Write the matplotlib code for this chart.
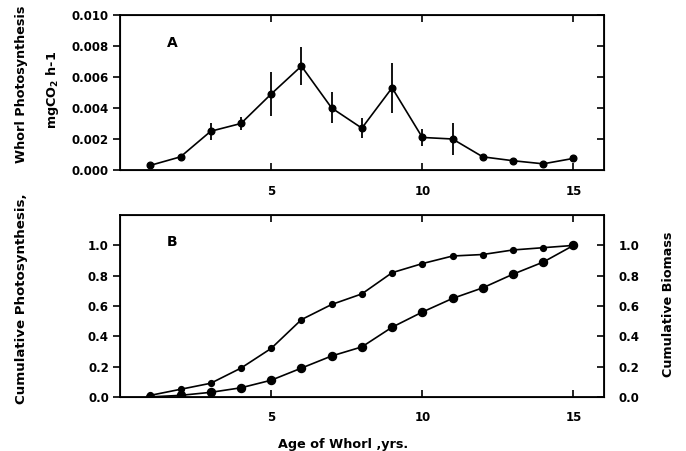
import numpy as np
import matplotlib.pyplot as plt

# whorl age, years
age = [1, 2, 3, 4, 5, 6, 7, 8, 9, 10, 11, 12, 13, 14, 15]

# panel A: whorl photosynthesis, mgCO2 h-1
photo = [0.0003, 0.00085, 0.0025, 0.0030, 0.0049, 0.0067, 0.0040, 0.0027,
         0.0053, 0.0021, 0.0020, 0.00085, 0.0006, 0.0004, 0.00075]
photo_err = [0, 0, 0.00055, 0.00043, 0.0014, 0.0012, 0.001, 0.00065,
             0.0016, 0.00055, 0.001, 0, 0, 0, 0]

# panel B: cumulative fractions
cum_photo = [0.01, 0.05, 0.09, 0.19, 0.32, 0.51, 0.61, 0.68, 0.82, 0.88,
             0.93, 0.94, 0.97, 0.985, 1.0]
cum_biomass = [0.0, 0.01, 0.03, 0.06, 0.11, 0.19, 0.27, 0.33, 0.46, 0.56,
               0.65, 0.72, 0.81, 0.89, 1.0]

plt.rcParams["font.family"] = "DejaVu Sans"
plt.rcParams["font.weight"] = "bold"
fs = 8.5
lfs = 9.2  # axis label size
lw = 1.2

fig = plt.figure(figsize=(6.86, 4.51), dpi=100)
axA = fig.add_axes([0.175, 0.623, 0.705, 0.344])
axB = fig.add_axes([0.175, 0.120, 0.705, 0.403])

for ax in (axA, axB):
    for s in ax.spines.values():
        s.set_linewidth(1.3)
    ax.set_xlim(0, 16)
    ax.set_xticks([5, 10, 15])
    ax.tick_params(axis="x", which="both", direction="in", top=True,
                   length=5, width=1.2, labelsize=fs)
    ax.tick_params(axis="y", direction="out", length=5, width=1.2,
                   labelsize=fs, pad=3)

# Panel A
axA.errorbar(age, photo, yerr=photo_err, color="black", lw=lw, elinewidth=1.3,
             capsize=0, marker="o", ms=4.8)
axA.set_ylim(0, 0.010)
axA.set_yticks(np.arange(0, 0.0101, 0.002))
axA.set_yticklabels(["%.3f" % v for v in np.arange(0, 0.0101, 0.002)])
axA.tick_params(axis="x", pad=11)
axA_r = axA.twinx()
axA_r.set_ylim(0, 0.010)
axA_r.set_yticks(np.arange(0.002, 0.0101, 0.002))
axA_r.tick_params(axis="y", direction="in", length=5, width=1.2,
                  labelright=False)
axA.text(1.72, 0.0082, "A", fontsize=10, fontweight="bold",
         ha="center", va="center")

# Panel B
axB.plot(age, cum_photo, color="black", lw=lw, marker="o", ms=4.2)
axB.set_ylim(0, 1.2)
axB.set_yticks(np.arange(0, 1.01, 0.2))
axB.set_yticklabels(["%.1f" % v for v in np.arange(0, 1.01, 0.2)])
axB.tick_params(axis="x", pad=10)
axB_r = axB.twinx()
axB_r.plot(age, cum_biomass, color="black", lw=lw, marker="o", ms=5.8)
axB_r.set_ylim(0, 1.2)
axB_r.set_yticks(np.arange(0, 1.01, 0.2))
axB_r.set_yticklabels(["%.1f" % v for v in np.arange(0, 1.01, 0.2)])
axB_r.tick_params(axis="y", direction="in", length=5, width=1.2,
                  labelsize=fs, pad=11)
axB.text(1.72, 1.02, "B", fontsize=10, fontweight="bold",
         ha="center", va="center")

# axis labels
fig.text(0.032, 0.812, "Whorl Photosynthesis", rotation=90, ha="center",
         va="center", fontsize=lfs)
fig.text(0.076, 0.80, "mgCO$_\\mathbf{2}$ h-1", rotation=90, ha="center",
         va="center", fontsize=lfs)
fig.text(0.032, 0.337, "Cumulative Photosynthesis,", rotation=90, ha="center",
         va="center", fontsize=lfs + 0.4)
fig.text(0.974, 0.325, "Cumulative Biomass", rotation=90, ha="center",
         va="center", fontsize=lfs)
fig.text(0.50, 0.015, "Age of Whorl ,yrs.", ha="center", va="center",
         fontsize=lfs)

fig.savefig("out.png", dpi=100)
